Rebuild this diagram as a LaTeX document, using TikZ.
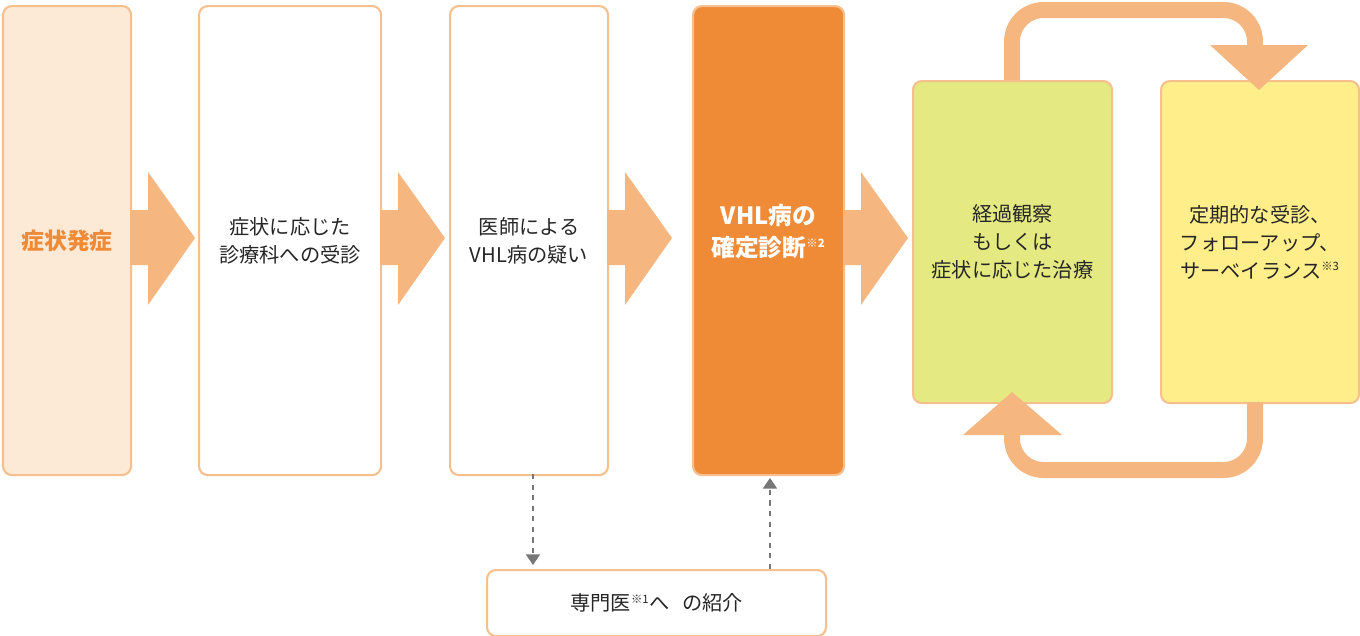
\documentclass[tikz,border=0pt]{standalone}
\usepackage{fontspec}
\setmainfont{Noto Sans CJK JP}
\usetikzlibrary{positioning, arrows.meta}
\definecolor{edgeor}{HTML}{F6C08E}
\definecolor{arrowor}{HTML}{F5B680}
\definecolor{deepor}{HTML}{EF8A37}
\definecolor{paleor}{HTML}{FCE9D6}
\definecolor{lime}{HTML}{E5E982}
\definecolor{lemon}{HTML}{FFEE8A}
\definecolor{dashgray}{HTML}{777777}
\tikzstyle{stage} = [rectangle, rounded corners=5pt, draw=edgeor, line width=1.2pt,
    anchor=north west, inner sep=0pt]
\tikzstyle{label} = [align=center, text=black!85, font=\fontsize{11.5}{16}\selectfont]
\tikzstyle{loop} = [draw=arrowor, line width=16*0.02cm, rounded corners=18pt]
\tikzstyle{refer} = [dashgray, thick, dashed, -{Triangle[width=8pt,length=6pt]}]
\newcommand{\bigarr}[2]{% from x #1 to x #2
  \fill[arrowor] (#1,210) -- (#1+18,210) -- (#1+18,172) -- (#2,238) -- (#1+18,305) -- (#1+18,265) -- (#1,265) -- cycle;}
\newcommand{\note}[1]{\textsuperscript{\fontsize{6.5}{6.5}\selectfont #1}}
\begin{document}
\begin{tikzpicture}[x=0.02cm, y=-0.02cm]
\useasboundingbox (0,0) rectangle (1360,636);
% Boxes
\node[stage, fill=paleor, minimum width=128*0.02cm, minimum height=469*0.02cm] (onset) at (2,5) {};
\node[label, text=deepor, font=\fontsize{13}{16}\selectfont\bfseries] at (onset.center) {症状発症};
\node[stage, fill=white, minimum width=182*0.02cm, minimum height=469*0.02cm] (visit) at (198,5) {};
\node[label] at (visit.center) {症状に応じた\\診療科への受診};
\node[stage, fill=white, minimum width=158*0.02cm, minimum height=469*0.02cm] (suspect) at (449,5) {};
\node[label] at (suspect.center) {医師による\\VHL病の疑い};
\node[stage, fill=deepor, minimum width=151*0.02cm, minimum height=469*0.02cm] (diag) at (692,5) {};
\node[label, text=white, font=\fontsize{13.5}{18}\selectfont\bfseries] at ([yshift=5pt]diag.center) {VHL病の\\確定診断\note{※2}};
\node[stage, fill=lime, minimum width=199*0.02cm, minimum height=322*0.02cm] (watch) at (912,80) {};
\node[label] at (watch.center) {経過観察\\もしくは\\症状に応じた治療};
\node[stage, fill=lemon, minimum width=198*0.02cm, minimum height=322*0.02cm] (follow) at (1160,80) {};
\node[label] at (follow.center) {定期的な受診、\\フォローアップ、\\サーベイランス\note{※3}};
\node[stage, fill=white, minimum width=339*0.02cm, minimum height=66*0.02cm] (refbox) at (486,569) {};
\node[label] at (refbox.center) {専門医\note{※1}へ\hspace{0.6em}の紹介};
% Arrows
\bigarr{130}{195}
\bigarr{380}{445}
\bigarr{607}{672}
\bigarr{843}{908}
% Loop
\draw[loop] (1012,80) -- (1012,10) -- (1255,10) -- (1255,50);
\fill[arrowor] (1210,45) -- (1308,45) -- (1259,90) -- cycle;
\draw[loop] (1255,402) -- (1255,470) -- (1012,470) -- (1012,430);
\fill[arrowor] (963,435) -- (1062,435) -- (1012,392) -- cycle;
% Referral
\coordinate (dn) at (533,565);
\coordinate (up) at (770,478);
\draw[refer] (533,474) -- (dn);
\draw[refer] (770,569) -- (up);
\end{tikzpicture}
\end{document}
